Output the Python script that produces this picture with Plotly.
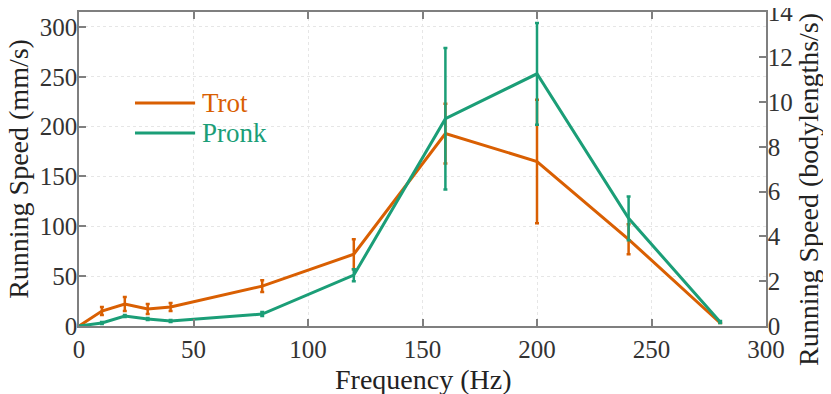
import plotly.graph_objects as go

# Frequency (Hz)
freq = [0, 10, 20, 30, 40, 80, 120, 160, 200, 240, 280]

# Running speed (mm/s) with error
trot_speed = [0, 15, 22, 17, 19, 40, 72, 193, 165, 87, 3]
trot_err = [0, 4, 7, 5, 4, 6, 15, 30, 62, 15, 0]

pronk_speed = [0, 3, 10, 7, 5, 12, 51, 208, 253, 108, 4]
pronk_err = [0, 1, 1, 1, 1, 2, 6, 71, 51, 22, 1]

TROT = '#d95f02'
PRONK = '#1b9e77'
FONT = 'Liberation Serif'
AXIS = '#7f7f7f'
GRID = '#e6e6e6'

fig = go.Figure()

fig.add_trace(go.Scatter(
    x=freq, y=trot_speed, mode='lines', name='Trot',
    line=dict(color=TROT, width=3),
    error_y=dict(type='data', array=trot_err, color=TROT, thickness=2.5, width=2),
    showlegend=False
))
fig.add_trace(go.Scatter(
    x=freq, y=pronk_speed, mode='lines', name='Pronk',
    line=dict(color=PRONK, width=3),
    error_y=dict(type='data', array=pronk_err, color=PRONK, thickness=2.5, width=2),
    showlegend=False
))
# empty trace so the right axis gets drawn
fig.add_trace(go.Scatter(x=[None], y=[None], yaxis='y2', showlegend=False, hoverinfo='skip'))

# hand-made legend (coloured text)
for name, color, ypos in [('Trot', TROT, 0.71), ('Pronk', PRONK, 0.615)]:
    fig.add_shape(type='line', xref='paper', yref='paper',
                  x0=0.0815, x1=0.169, y0=ypos, y1=ypos,
                  line=dict(color=color, width=3))
    fig.add_annotation(xref='paper', yref='paper', x=0.176, y=ypos,
                       text=name, showarrow=False, xanchor='left', yanchor='middle',
                       font=dict(family=FONT, size=27, color=color))

# axis titles
title_font = dict(family=FONT, size=28, color='#222222')
fig.add_annotation(xref='paper', yref='paper', x=0.5, y=-0.169, text='Frequency (Hz)',
                   showarrow=False, xanchor='center', yanchor='middle', font=title_font)
fig.add_annotation(xref='paper', yref='paper', x=-0.089, y=0.5, text='Running Speed (mm/s)',
                   showarrow=False, textangle=-90, xanchor='center', yanchor='middle', font=title_font)
fig.add_annotation(xref='paper', yref='paper', x=1.062, y=0.435, text='Running Speed (bodylengths/s)',
                   showarrow=False, textangle=-90, xanchor='center', yanchor='middle', font=title_font)

axis_common = dict(
    showline=True, linecolor=AXIS, linewidth=1.5,
    ticks='inside', ticklen=7, tickcolor=AXIS, tickwidth=1.5,
    tickfont=dict(family=FONT, size=25, color='#333333'),
    zeroline=False, automargin=False,
)

# page body has an 8px margin, so the figure is 8px smaller than the window
fig.update_layout(
    width=823, height=386,
    margin=dict(l=71, r=65, t=4, b=68),
    plot_bgcolor='white', paper_bgcolor='white',
    font=dict(family=FONT, size=26, color='#222222'),
    xaxis=dict(
        range=[0, 300], tickvals=[0, 50, 100, 150, 200, 250, 300],
        mirror='ticks', showgrid=True, gridcolor=GRID, griddash='dot', gridwidth=1,
        **axis_common
    ),
    yaxis=dict(
        range=[0, 315], tickvals=[0, 50, 100, 150, 200, 250, 300],
        showgrid=True, gridcolor=GRID, griddash='dot', gridwidth=1,
        ticklabelstandoff=-5,
        **axis_common
    ),
    yaxis2=dict(
        range=[0, 14.02], tickvals=[0, 2, 4, 6, 8, 10, 12, 14],
        overlaying='y', side='right', showgrid=False,
        ticklabelstandoff=-5, ticklabeloverflow='allow',
        **axis_common
    ),
)

fig.write_html('out.html')
